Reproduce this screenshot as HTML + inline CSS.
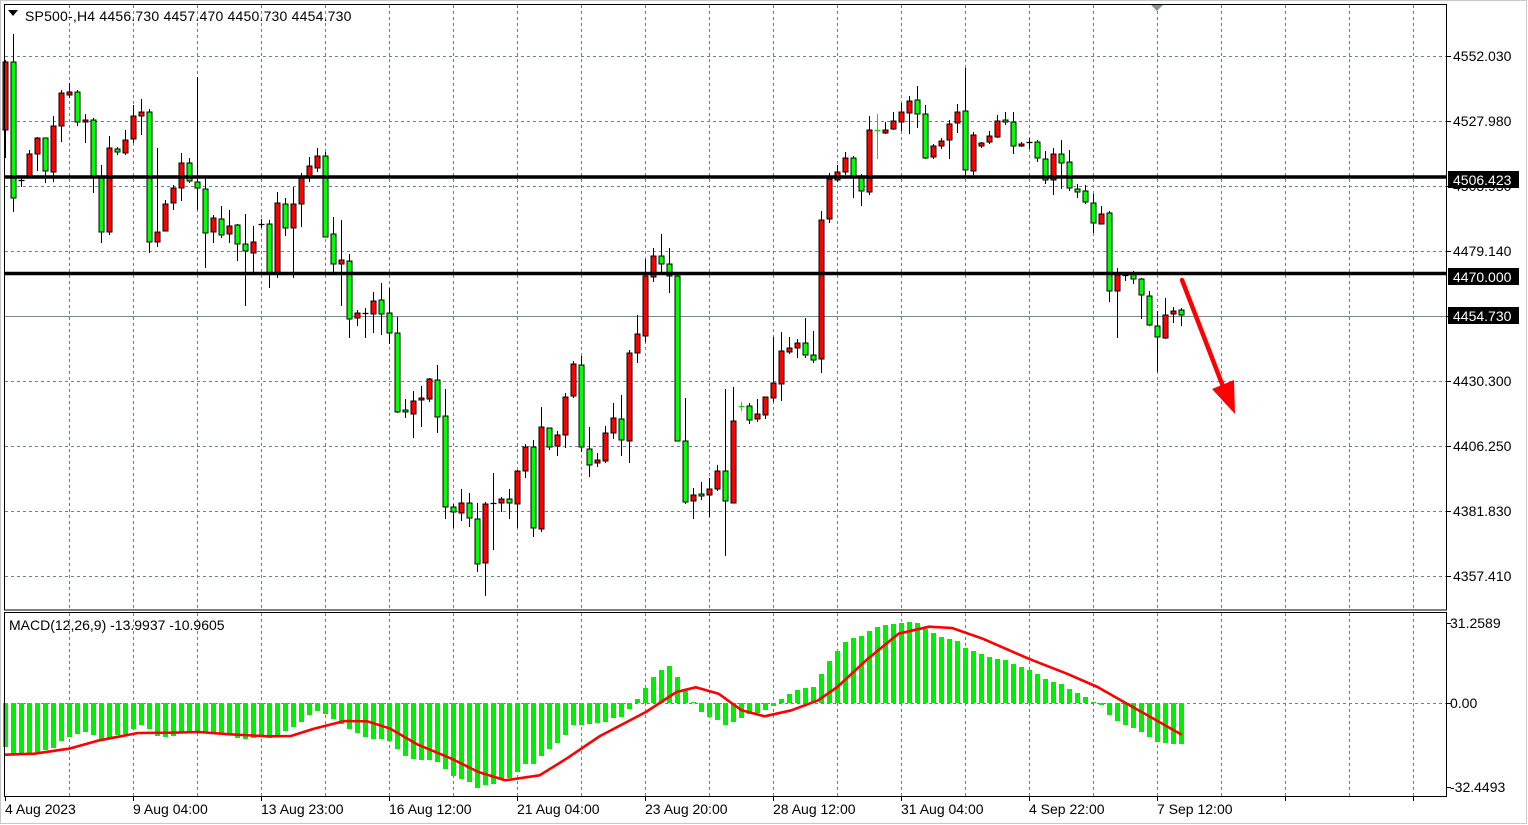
<!DOCTYPE html>
<html><head><meta charset="utf-8"><style>
html,body{margin:0;padding:0;background:#fff;}
svg{display:block;font-family:"Liberation Sans",Tahoma,sans-serif;}
</style></head><body>
<svg id="s" width="1528" height="825" viewBox="0 0 1528 825" xmlns="http://www.w3.org/2000/svg">
<rect x="0" y="0" width="1528" height="825" fill="#fff"/>
<rect x="0.5" y="0.5" width="1526" height="823" fill="none" stroke="#c8c8c8"/>
<g id="grid" stroke="#708090" stroke-width="1" stroke-dasharray="3,3"></g>
<line x1="4" y1="316.5" x2="1447" y2="316.5" stroke="#778899" stroke-width="1"/>
<g id="candles"></g>
<line x1="4" y1="177" x2="1447" y2="177" stroke="#000" stroke-width="3.5"/>
<line x1="4" y1="273.5" x2="1447" y2="273.5" stroke="#000" stroke-width="3.5"/>
<g id="hist" fill="#00ee00"></g>
<polyline fill="none" stroke="#ff0000" stroke-width="2.6" stroke-linejoin="round" points="5,754.7 34.4,753.7 68.9,748.7 99.5,740.3 137.8,733 172.2,732.7 199,732 229.6,734.3 267.9,736.3 290.9,736 313.8,728.7 344.4,721 367.4,721.3 390.3,728.7 417.1,744.3 451.6,758.7 478.4,772 505.2,780.3 539.6,775.3 566.4,758.7 600,736 645.9,712 676.5,692 695.7,687.3 718.6,693.7 741.6,710.3 764.6,716.3 791.4,710.3 818.1,700.3 837.3,687 867.9,658.7 898.5,633.7 929.1,626.7 952.1,628 982.7,638.7 1028.6,658.7 1066.9,673.7 1097.5,687 1135.8,708.7 1181.7,734.7"/>
<rect x="4.5" y="4.5" width="1442" height="605.5" fill="none" stroke="#000" stroke-width="1"/>
<rect x="4.5" y="612.5" width="1442" height="184" fill="none" stroke="#000" stroke-width="1"/>
<polygon points="8,10 18,10 13,16" fill="#000"/>
<text x="25" y="21" font-size="14" letter-spacing="0.2" fill="#000">SP500-,H4  4456.730 4457.470 4450.730 4454.730</text>
<polygon points="1151,5 1163,5 1157,11" fill="#8a8f99"/>
<text x="9" y="630" font-size="14" fill="#000">MACD(12,26,9) -13.9937 -10.9605</text>
<line x1="1182" y1="280" x2="1224" y2="389" stroke="#ff0000" stroke-width="4.5" stroke-linecap="round"/>
<polygon points="1212,389 1234,380 1235,414" fill="#ff0000"/>
<g font-size="14" fill="#000">
<g id="ticks" stroke="#000"></g>
<text x="1453" y="61">4552.030</text>
<text x="1453" y="126">4527.980</text>
<text x="1453" y="191">4503.930</text>
<text x="1453" y="256">4479.140</text>
<text x="1453" y="386">4430.300</text>
<text x="1453" y="451">4406.250</text>
<text x="1453" y="516">4381.830</text>
<text x="1453" y="581">4357.410</text>
<rect x="1448" y="171" width="71" height="17" fill="#000"/>
<text x="1453" y="185" fill="#fff">4506.423</text>
<rect x="1448" y="268" width="71" height="17" fill="#000"/>
<text x="1453" y="282" fill="#fff">4470.000</text>
<rect x="1448" y="307" width="71" height="17" fill="#000"/>
<text x="1453" y="321" fill="#fff">4454.730</text>
<text x="1450" y="628">31.2589</text>
<text x="1450" y="708">0.00</text>
<text x="1450" y="792">-32.4493</text>
</g>
<g font-size="14" fill="#000" id="dates">
<text x="5" y="814">4 Aug 2023</text>
<text x="133" y="814">9 Aug 04:00</text>
<text x="261" y="814">13 Aug 23:00</text>
<text x="389" y="814">16 Aug 12:00</text>
<text x="517" y="814">21 Aug 04:00</text>
<text x="645" y="814">23 Aug 20:00</text>
<text x="773" y="814">28 Aug 12:00</text>
<text x="901" y="814">31 Aug 04:00</text>
<text x="1029" y="814">4 Sep 22:00</text>
<text x="1157" y="814">7 Sep 12:00</text>
</g>
</svg>
<script>
(function(){
var NS="http://www.w3.org/2000/svg";
function el(p,t,a){var e=document.createElementNS(NS,t);for(var k in a)e.setAttribute(k,a[k]);p.appendChild(e);return e;}
var g=document.getElementById('grid');
var hy=[56,121,186,251,316,381,446,511,576];
hy.forEach(function(y){if(y!==316)el(g,'line',{x1:5,y1:y+.5,x2:1446,y2:y+.5});});
el(g,'line',{x1:5,y1:703.5,x2:1446,y2:703.5});
for(var x=69;x<1446;x+=64){el(g,'line',{x1:x+.5,y1:5,x2:x+.5,y2:609});el(g,'line',{x1:x+.5,y1:613,x2:x+.5,y2:796});}
var tk=document.getElementById('ticks');
hy.concat([623,703,787]).forEach(function(y){el(tk,'line',{x1:1447,y1:y+.5,x2:1451,y2:y+.5});});
for(var x=5;x<1446;x+=128){el(tk,'line',{x1:x+.5,y1:797,x2:x+.5,y2:801});}
var C=[[60,158,62,130,'r'],[34,212,62,198,'g'],[177,187,180,181,'d'],[150,177,154,177,'r'],[137,171,138,154,'r'],[138,183,138,171,'g'],[116,182,126,172,'r'],[90,142,93,126,'r'],[83,98,92,95,'r'],[90,126,92,122,'g'],
[114,143,120,122,'r'],[118,193,120,176,'g'],[165,243,176,232,'g'],[136,235,148,232,'r'],[147,155,149,152,'g'],[130,155,140,153,'r'],[105,143,116,139,'r'],[99,135,112,116,'r'],[109,253,112,242,'g'],[148,247,232,242,'r'],
[200,231,204,231,'r'],[185,210,188,203,'r'],[153,201,163,188,'r'],[158,183,163,181,'g'],[77,210,182,188,'g'],[177,268,189,233,'g'],[215,243,218,232,'r'],[206,238,219,235,'g'],[210,243,226,234,'r'],[224,261,225,244,'g'],
[214,306,244,251,'g'],[226,273,242,253,'r'],[219,228,224,225,'d'],[220,288,224,273,'g'],[192,278,203,273,'r'],[198,236,204,228,'g'],[187,278,204,228,'r'],[173,227,178,204,'r'],[157,182,166,176,'r'],[148,172,156,168,'r'],
[152,237,156,237,'g'],[217,272,234,264,'g'],[220,306,260,264,'r'],[254,338,261,319,'g'],[310,326,313,318,'r'],[308,338,313,314,'d'],[292,333,301,314,'r'],[283,335,300,314,'g'],[288,344,313,333,'g'],[317,413,333,412,'g'],
[399,418,410,412,'g'],[391,438,401,414,'r'],[386,427,398,400,'r'],[378,402,379,399,'r'],[365,433,380,417,'g'],[389,519,416,507,'g'],[504,528,507,512,'g'],[489,521,503,513,'r'],[493,527,503,518,'g'],[503,572,519,564,'g'],
[502,596,504,563,'r'],[473,550,503,504,'d'],[497,512,499,503,'r'],[489,519,499,503,'g'],[470,528,471,504,'r'],[444,478,447,471,'r'],[440,537,447,528,'g'],[407,532,427,529,'r'],[428,450,428,447,'g'],[431,456,435,446,'r'],
[393,448,397,435,'r'],[361,398,364,396,'r'],[356,452,365,447,'g'],[427,477,449,465,'g'],[453,467,460,463,'r'],[426,463,433,461,'r'],[403,439,418,433,'r'],[395,456,419,440,'g'],[350,463,353,441,'r'],[315,363,334,353,'r'],
[259,342,276,336,'r'],[248,282,256,277,'r'],[234,272,256,264,'g'],[248,293,264,276,'g'],[276,441,276,441,'g'],[398,504,441,502,'g'],[488,519,495,501,'r'],[482,500,494,496,'g'],[478,517,489,495,'r'],[465,491,471,489,'r'],
[389,556,471,501,'g'],[387,503,421,503,'r'],[402,411,406,407,'G'],[403,424,406,420,'g'],[399,422,414,419,'r'],[397,419,397,415,'r'],[337,402,383,398,'r'],[332,401,351,384,'r'],[337,354,348,352,'r'],[339,358,343,348,'r'],
[318,358,343,355,'g'],[331,363,355,360,'g'],[211,373,220,359,'r'],[173,223,179,219,'r'],[165,182,172,180,'r'],[152,175,158,172,'r'],[156,198,158,177,'g'],[174,206,177,191,'g'],[116,195,130,192,'r'],[114,159,130,131,'G'],
[122,134,130,133,'r'],[112,130,121,129,'r'],[103,131,112,122,'r'],[96,134,101,113,'r'],[86,128,100,114,'g'],[105,159,114,158,'g'],[144,159,146,157,'r'],[138,149,141,146,'r'],[120,159,124,140,'r'],[104,133,112,123,'r'],
[68,177,111,170,'g'],[132,175,135,171,'r'],[142,148,143,146,'r'],[131,144,136,142,'r'],[115,138,121,137,'r'],[112,125,120,122,'g'],[112,154,122,146,'g'],[142,147,144,146,'r'],[138,149,142,143,'d'],[140,162,142,158,'g'],
[151,184,159,180,'g'],[148,195,154,180,'r'],[140,189,154,163,'g'],[150,191,162,188,'g'],[184,198,189,192,'g'],[185,204,191,202,'g'],[194,233,203,223,'g'],[206,224,214,224,'r'],[211,302,213,291,'g'],[268,338,275,291,'r'],
[274,281,275,276,'d'],[271,284,273,279,'g'],[278,319,279,295,'g'],[291,326,296,325,'g'],[311,372,326,337,'g'],[298,339,315,338,'r'],[307,323,311,314,'r'],[308,326,310,315,'g']];
var cg=document.getElementById('candles');
C.forEach(function(c,i){
 var x=5.5+8*i;
 if(c[4]==='d'||c[4]==='G'){
  var col=c[4]==='G'?'#00dd00':'#000';
  el(cg,'line',{x1:x,y1:c[0],x2:x,y2:c[1],stroke:col,'stroke-width':1});
  el(cg,'line',{x1:x-3,y1:c[2]+.5,x2:x+3,y2:c[2]+.5,stroke:col,'stroke-width':1.3});
  return;
 }
 el(cg,'line',{x1:x,y1:c[0],x2:x,y2:c[1],stroke:'#000','stroke-width':1});
 var h=Math.max(c[3]-c[2],2);
 el(cg,'rect',{x:x-2.5,y:c[2],width:5,height:h,fill:c[4]==='r'?'#ff0000':'#00ff00',stroke:'#000','stroke-width':1});
});
var H=[44,51,51,50,49,47,45,38,34,31,29,32,37,35,32,31,26,22,26,33,34,33,29,30,28,30,31,31,32,35,36,35,34,35,32,28,24,19,12,8,11,16,21,26,30,34,36,36,38,46,53,56,57,57,59,66,73,76,79,85,82,81,77,75,69,61,61,53,46,40,32,22,22,21,20,
19,15,14,6,-4,-15,-26,-33,-37,-26,-12,-1,9,14,17,22,19,15,11,10,7,3,-4,-9,-13,-15,-16,-29,-42,-52,-61,-65,-67,-72,-76,-78,-79,-80,-81,-80,-74,-70,-66,-64,-62,-55,-52,-49,-46,-44,-43,-39,-36,-33,-29,-24,-21,-19,-14,-10,-6,-1,2,12,18,22,25,29,34,39,40,41,41];
var hg=document.getElementById('hist');
H.forEach(function(v,i){
 var x=5.5+8*i;
 if(v>=0) el(hg,'rect',{x:x-2.5,y:703,width:5,height:Math.max(v,1)});
 else el(hg,'rect',{x:x-2.5,y:703+v,width:5,height:-v});
});
})();
</script>
</body></html>
